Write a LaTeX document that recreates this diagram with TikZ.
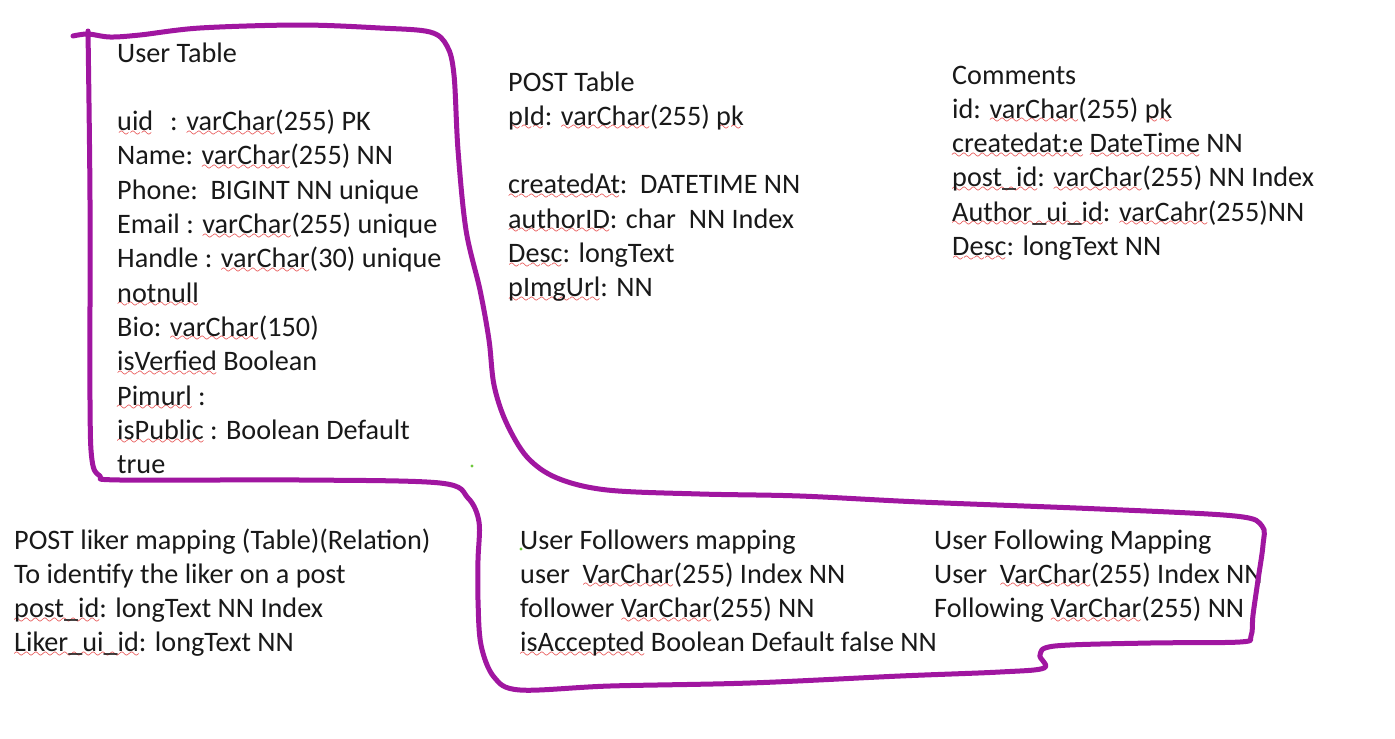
\documentclass[tikz,border=0pt]{standalone}
\usepackage{fontspec}
\setmainfont{Carlito}
\definecolor{penpurple}{RGB}{160,22,160}
\definecolor{spellred}{RGB}{225,30,30}
\definecolor{inkgray}{RGB}{25,25,25}
\definecolor{dotgreen}{RGB}{110,200,60}
\font\spellwave=lasy10 at 14pt
\newcommand\spell[1]{\setbox0\hbox{#1}\rlap{\textcolor{spellred}{\lower5.5pt\hbox to\wd0{\xleaders\hbox{\spellwave\char58}\hfil}}}\box0\relax}
\newcommand\tblfont{\fontsize{28.2}{34.3}\selectfont}

\begin{document}
\begin{tikzpicture}[x=1pt, y=-1pt,
		tbl/.style = {anchor=base west, align=left, inner sep=0pt, font=\tblfont, text=inkgray},
		pen/.style = {draw=penpurple, line width=5pt, line cap=round, line join=round},
	]
	\useasboundingbox[fill=white] (0,0) rectangle (1395,739);
	% the tables (placed at the baseline of their last line)
	\node[tbl] (user) at (117,473.6) {User Table\\[34.3pt]
			\spell{uid}\hspace{17pt}: \spell{varChar}(255) PK\\
			Name: \spell{varChar}(255) NN\\
			Phone:\ \ BIGINT NN unique\\
			Email : \spell{varChar}(255) unique\\
			Handle : \spell{varChar}(30) unique\\
			\spell{notnull}\\
			Bio: \spell{varChar}(150)\\
			\spell{isVerfied} Boolean\\
			\spell{Pimurl} :\\
			\spell{isPublic} : Boolean Default\\
			true};
	\node[tbl] (post) at (508,296.8) {POST Table\\
			\spell{pId}: \spell{varChar}(255) \spell{pk}\\[34.3pt]
			\spell{createdAt}:\ \ DATETIME NN\\
			\spell{authorID}: char\ \ NN Index\\
			\spell{Desc}: longText\\
			\spell{pImgUrl}: NN};
	\node[tbl] (comments) at (952,255.5) {Comments\\
			id: \spell{varChar}(255) \spell{pk}\\
			\spell{createdat:e} \spell{DateTime} NN\\
			\spell{post\_id}: \spell{varChar}(255) NN Index\\
			\spell{Author\_ui\_id}: \spell{varCahr}(255)NN\\
			\spell{Desc}: longText NN};
	% the mappings
	\node[tbl] (liker) at (14,651.9) {POST liker mapping (Table)(Relation)\\
			To identify the liker on a post\\
			\spell{post\_id}: longText NN Index\\
			\spell{Liker\_ui\_id}: longText NN};
	\node[tbl] (followers) at (520,651.9) {User Followers mapping\\
			user\ \ \spell{VarChar}(255) Index NN\\
			follower \spell{VarChar}(255) NN\\
			\spell{isAccepted} Boolean Default false NN};
	\node[tbl] (following) at (934,617.6) {User Following Mapping\\
			User\ \ \spell{VarChar}(255) Index NN\\
			Following \spell{VarChar}(255) NN};
	% pen stroke round the tables
	\draw[pen] plot[smooth, tension=0.55] coordinates {
			(73,36) (88,34) (110,37) (140,35) (200,28) (300,25) (380,28) (430,32) (447,46)
			(454,75) (458,150) (466,230) (480,290) (489,340) (494,385) (506,422) (527,457)
			(557,478) (607,490) (700,494) (800,496) (920,502) (1100,509) (1235,516)
			(1262,526) (1263,545) (1258,580) (1253,615) (1251,636) (1240,642) (1150,643)
			(1055,646) (1040,655) (1044,668) (1000,672) (900,676) (750,683) (610,686)
			(520,690) (494,677) (481,645) (478,600) (478,560) (479,522) (468,498) (440,483)
			(300,480) (120,480) (100,476) (92,460) (90,400) (90,200) (88,31)};
	% stray pen dots
	\fill[dotgreen] (472,466) circle (1.6);
	\fill[dotgreen] (521,549) circle (1.6);
\end{tikzpicture}
\end{document}
